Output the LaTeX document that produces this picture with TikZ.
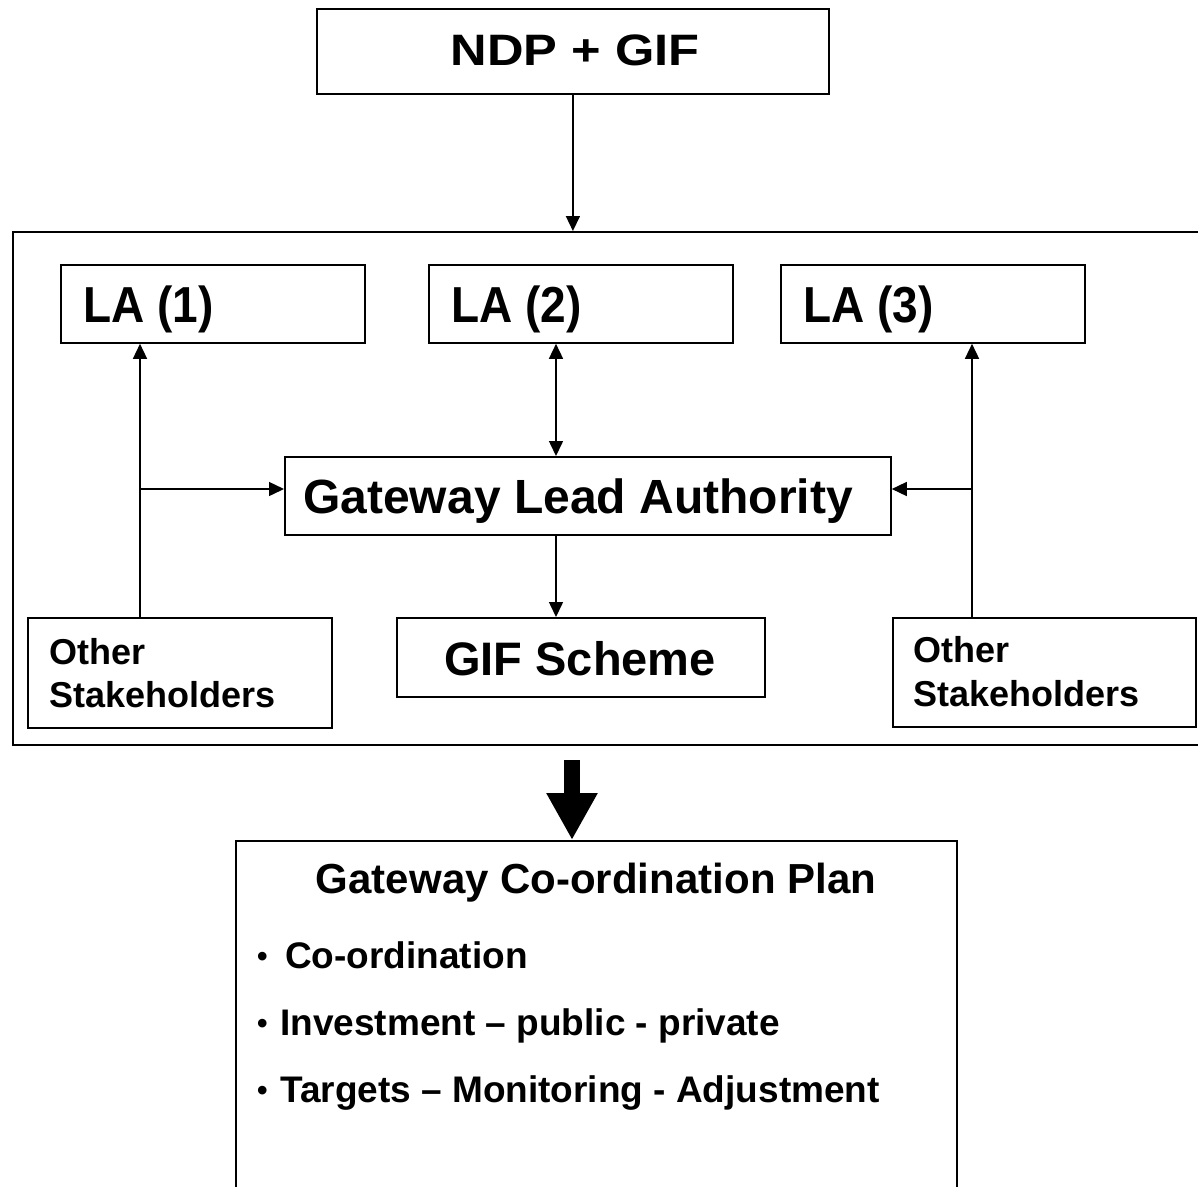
\documentclass[tikz,border=0pt]{standalone}
\usepackage{fontspec}
\setmainfont{Liberation Sans}
\usetikzlibrary{arrows.meta}
\begin{document}
\begin{tikzpicture}[x=1pt,y=-1pt,
  box/.style={draw, line width=1.8pt, anchor=north west, inner sep=0pt},
  conn/.style={line width=1.5pt, -{Triangle[length=15pt,width=14pt]}},
  biconn/.style={line width=1.5pt, {Triangle[length=15pt,width=14pt]}-{Triangle[length=15pt,width=14pt]}},
  txt/.style={inner sep=0pt, anchor=base west, font=\bfseries\fontsize{#1}{#1}\selectfont},
  ctxt/.style={inner sep=0pt, anchor=base, font=\bfseries\fontsize{#1}{#1}\selectfont}]
\useasboundingbox (0,0) rectangle (1198,1186);
\fill[white] (0,0) rectangle (1198,1186);

% container
\node[box, minimum width=1200pt, minimum height=513pt] (cont) at (12,231) {};
% boxes
\node[box, minimum width=512pt, minimum height=85pt] (ndp) at (316,8) {};
\node[box, minimum width=304pt, minimum height=78pt] (la1) at (60,264) {};
\node[box, minimum width=304pt, minimum height=78pt] (la2) at (428,264) {};
\node[box, minimum width=304pt, minimum height=78pt] (la3) at (780,264) {};
\node[box, minimum width=606pt, minimum height=78pt] (gla) at (284,456) {};
\node[box, minimum width=368pt, minimum height=79pt] (gif) at (396,617) {};
\node[box, minimum width=304pt, minimum height=110pt] (os1) at (27,617) {};
\node[box, minimum width=303pt, minimum height=109pt] (os2) at (892,617) {};
\node[box, minimum width=721pt, minimum height=360pt] (plan) at (235,840) {};

% texts
\node[ctxt=44] (tndp) at (575,65) {\scalebox{1.15}[1]{NDP + GIF}};
\node[txt=46] (tla1) at (83,322) {\scalebox{1}[1.1]{LA (1)}};
\node[txt=46] (tla2) at (451,322) {\scalebox{1}[1.1]{LA (2)}};
\node[txt=46] (tla3) at (803,322) {\scalebox{1}[1.1]{LA (3)}};
\node[ctxt=48] (tgla) at (578,513) {Gateway Lead Authority};
\node[ctxt=47] (tgif) at (580,675) {GIF Scheme};
\node[txt=36] (tos1a) at (49,664) {Other};
\node[txt=36] (tos1b) at (49,707) {Stakeholders};
\node[txt=36] (tos2a) at (913,662) {Other};
\node[txt=36] (tos2b) at (913,706) {Stakeholders};
\node[ctxt=42] (tplan) at (596,893) {Gateway Co-ordination Plan};
\node[txt=30] (b1) at (257,966) {•};
\node[txt=37] (tb1) at (285,968) {Co-ordination};
\node[txt=30] (b2) at (257,1033) {•};
\node[txt=37] (tb2) at (280,1035) {Investment – public - private};
\node[txt=30] (b3) at (257,1100) {•};
\node[txt=37] (tb3) at (280,1102) {Targets – Monitoring - Adjustment};

% connectors
\coordinate (ax) at (556,0);
\coordinate (lx) at (140,489);
\coordinate (rx) at (972,489);
\draw[conn] (ndp.south) -- (ndp.south |- cont.north);
\draw[biconn] (ax |- la2.south) -- (ax |- gla.north);
\draw[conn] (ax |- gla.south) -- (ax |- gif.north);
\draw[conn] (lx |- os1.north) -- (lx |- la1.south);
\draw[conn] (lx) -- (lx -| gla.west);
\draw[conn] (rx |- os2.north) -- (rx |- la3.south);
\draw[conn] (rx) -- (rx -| gla.east);

% big arrow
\coordinate (bs) at (572,760);
\draw[line width=16pt, -{Triangle[length=47pt,width=48pt]}] (bs) -- (bs |- plan.north);
\end{tikzpicture}
\end{document}
